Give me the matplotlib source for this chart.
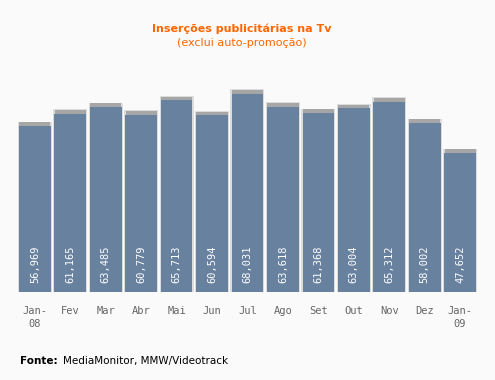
import matplotlib.pyplot as plt

# Inserções publicitárias mensais (Jan-08 a Jan-09)
months = ['Jan-\n08', 'Fev', 'Mar', 'Abr', 'Mai', 'Jun', 'Jul', 'Ago',
          'Set', 'Out', 'Nov', 'Dez', 'Jan-\n09']
values = [56969, 61165, 63485, 60779, 65713, 60594, 68031, 63618,
          61368, 63004, 65312, 58002, 47652]

bg = '#fafafa'
bar_color = '#67819f'
orange = '#ff6600'

fig = plt.figure(figsize=(4.95, 3.8), dpi=100, facecolor=bg)
ax = fig.add_axes([0.0346, 0.2324, 0.9307, 0.6126])
ax.set_facecolor(bg)

x = list(range(len(values)))

# soft shadow behind the bars
ax.bar(x, [v + 1500 for v in values], width=0.96, color='#dcdcdc', zorder=1)
ax.bar(x, [v + 1250 for v in values], width=0.88, color='#a6a6a6', zorder=2)
ax.bar(x, values, width=0.894, color=bar_color, zorder=3)

for i, v in enumerate(values):
    ax.text(i, 2900, f'{v:,}', rotation=90, ha='center', va='bottom',
            color='white', fontsize=7.5, family='DejaVu Sans Mono', zorder=4)

ax.set_xlim(-0.5, len(values) - 0.5)
ax.set_ylim(0, 80000)
ax.set_xticks(x)
ax.set_xticklabels(months, family='DejaVu Sans Mono', fontsize=7.5,
                   color='#666666', linespacing=1.4)
ax.tick_params(axis='x', length=0, pad=10)
ax.set_yticks([])
for s in ax.spines.values():
    s.set_visible(False)

fig.text(241.5 / 495, 1 - 29 / 380, 'Inserções publicitárias na Tv',
         ha='center', va='center', color=orange, fontsize=8, fontweight='bold')
fig.text(241.5 / 495, 1 - 43 / 380, '(exclui auto-promoção)',
         ha='center', va='center', color=orange, fontsize=8)

fig.text(20 / 495, 1 - 361 / 380, 'Fonte:', ha='left', va='center',
         fontsize=7.5, fontweight='bold', color='black')
fig.text(63 / 495, 1 - 361 / 380, 'MediaMonitor, MMW/Videotrack', ha='left',
         va='center', fontsize=7.5, color='black')

fig.savefig('out.png', dpi=100, facecolor=bg)
